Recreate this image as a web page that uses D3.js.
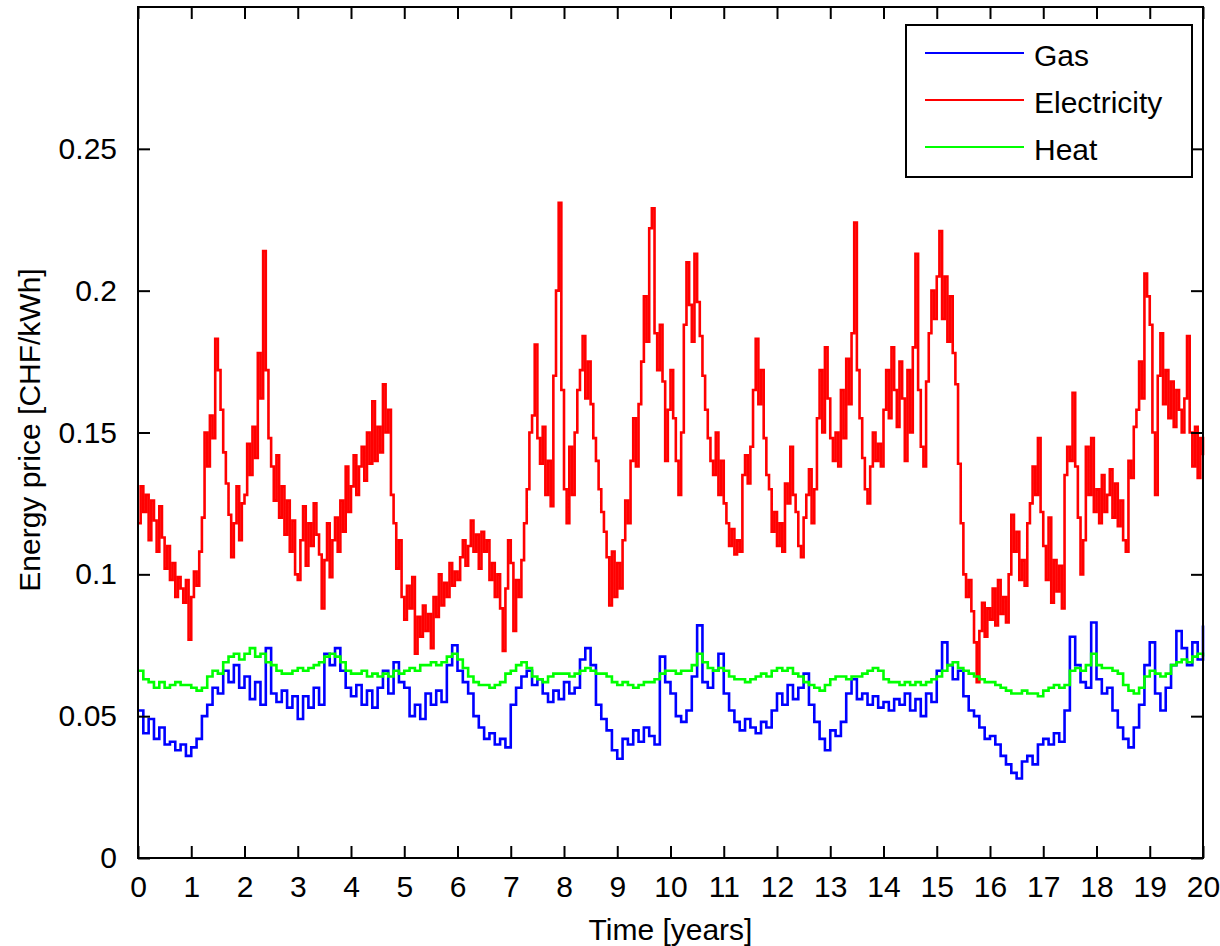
<!DOCTYPE html>
<html>
<head>
<meta charset="utf-8">
<script src="https://cdn.jsdelivr.net/npm/d3@7"></script>
<style>
  body { margin: 0; background: #fff; }
  text { font-family: "Liberation Sans", Arial, sans-serif; fill: #000; }
</style>
</head>
<body>
<div id="chart"></div>
<script>
// series names and colours (legend order)
const seriesNames = ["Gas", "Electricity", "Heat"];
const seriesColors = ["#0000ff", "#ff0000", "#00ff00"];

// tick labels
const xTicks = d3.range(0, 21);
const yTicks = [0, 0.05, 0.1, 0.15, 0.2, 0.25];
const yTickLabels = ["0", "0.05", "0.1", "0.15", "0.2", "0.25"];

const elecStep = 0.05;
const elec = [
  0.118, 0.131, 0.122, 0.128, 0.112, 0.126, 0.119, 0.108, 0.124, 0.113, 0.102, 0.110, 0.098, 0.104, 0.092, 0.099, 0.095, 0.090, 0.098, 0.077,
  0.092, 0.101, 0.096, 0.108, 0.120, 0.150, 0.138, 0.156, 0.148, 0.183, 0.172, 0.158, 0.143, 0.132, 0.121, 0.106, 0.118, 0.131, 0.112, 0.125,
  0.128, 0.146, 0.135, 0.152, 0.141, 0.178, 0.162, 0.214, 0.172, 0.148, 0.138, 0.126, 0.142, 0.120, 0.131, 0.114, 0.126, 0.108, 0.119, 0.100,
  0.098, 0.112, 0.124, 0.103, 0.118, 0.110, 0.125, 0.114, 0.107, 0.088, 0.105, 0.118, 0.099, 0.112, 0.120, 0.108, 0.126, 0.115, 0.138, 0.122,
  0.131, 0.142, 0.128, 0.138, 0.145, 0.133, 0.150, 0.139, 0.161, 0.140, 0.152, 0.143, 0.167, 0.150, 0.158, 0.128, 0.118, 0.102, 0.112, 0.092,
  0.084, 0.096, 0.088, 0.099, 0.072, 0.085, 0.078, 0.089, 0.080, 0.086, 0.074, 0.092, 0.085, 0.100, 0.089, 0.097, 0.092, 0.104, 0.096, 0.101,
  0.098, 0.106, 0.112, 0.103, 0.110, 0.119, 0.108, 0.114, 0.102, 0.115, 0.108, 0.112, 0.098, 0.104, 0.092, 0.100, 0.088, 0.073, 0.095, 0.112,
  0.104, 0.080, 0.098, 0.092, 0.105, 0.118, 0.130, 0.150, 0.156, 0.181, 0.148, 0.139, 0.152, 0.128, 0.140, 0.124, 0.170, 0.200, 0.231, 0.165,
  0.130, 0.118, 0.145, 0.128, 0.150, 0.165, 0.172, 0.184, 0.162, 0.175, 0.160, 0.148, 0.140, 0.130, 0.122, 0.115, 0.106, 0.089, 0.108, 0.092,
  0.104, 0.095, 0.112, 0.126, 0.118, 0.140, 0.155, 0.138, 0.160, 0.175, 0.198, 0.182, 0.222, 0.229, 0.185, 0.172, 0.188, 0.168, 0.140, 0.158,
  0.172, 0.155, 0.140, 0.128, 0.150, 0.188, 0.210, 0.195, 0.182, 0.213, 0.196, 0.184, 0.170, 0.158, 0.148, 0.140, 0.135, 0.150, 0.128, 0.140,
  0.125, 0.118, 0.110, 0.116, 0.107, 0.112, 0.108, 0.135, 0.142, 0.132, 0.145, 0.165, 0.183, 0.160, 0.172, 0.148, 0.135, 0.130, 0.115, 0.122,
  0.110, 0.118, 0.108, 0.132, 0.125, 0.145, 0.128, 0.122, 0.110, 0.106, 0.120, 0.128, 0.137, 0.118, 0.130, 0.155, 0.172, 0.150, 0.180, 0.162,
  0.148, 0.140, 0.150, 0.138, 0.165, 0.148, 0.176, 0.160, 0.185, 0.224, 0.172, 0.155, 0.141, 0.130, 0.125, 0.138, 0.150, 0.140, 0.146, 0.138,
  0.158, 0.172, 0.155, 0.180, 0.165, 0.152, 0.175, 0.162, 0.140, 0.172, 0.150, 0.180, 0.213, 0.165, 0.145, 0.138, 0.168, 0.185, 0.200, 0.190,
  0.205, 0.221, 0.190, 0.205, 0.182, 0.198, 0.178, 0.167, 0.139, 0.118, 0.100, 0.092, 0.098, 0.087, 0.076, 0.062, 0.080, 0.090, 0.078, 0.088,
  0.084, 0.095, 0.082, 0.098, 0.086, 0.092, 0.083, 0.100, 0.121, 0.108, 0.115, 0.098, 0.105, 0.096, 0.118, 0.125, 0.138, 0.128, 0.148, 0.122,
  0.110, 0.098, 0.120, 0.090, 0.105, 0.094, 0.103, 0.088, 0.135, 0.145, 0.140, 0.164, 0.138, 0.120, 0.100, 0.112, 0.145, 0.128, 0.148, 0.122,
  0.130, 0.118, 0.135, 0.122, 0.128, 0.137, 0.120, 0.132, 0.117, 0.126, 0.112, 0.108, 0.140, 0.134, 0.152, 0.158, 0.175, 0.162, 0.206, 0.198,
  0.188, 0.150, 0.128, 0.170, 0.185, 0.160, 0.172, 0.155, 0.168, 0.152, 0.165, 0.158, 0.150, 0.162, 0.184, 0.150, 0.138, 0.152, 0.134, 0.148,
  0.142
];

// gas price, sampled every 0.1 years
const gasStep = 0.1;
const gas = [
  0.052, 0.044, 0.049, 0.042, 0.046, 0.040, 0.041, 0.038, 0.040, 0.036,
  0.039, 0.042, 0.050, 0.054, 0.060, 0.058, 0.066, 0.062, 0.068, 0.060,
  0.064, 0.056, 0.062, 0.054, 0.074, 0.058, 0.055, 0.059, 0.053, 0.057,
  0.049, 0.057, 0.053, 0.060, 0.054, 0.072, 0.068, 0.074, 0.066, 0.060,
  0.057, 0.061, 0.054, 0.059, 0.053, 0.060, 0.066, 0.058, 0.069, 0.062,
  0.060, 0.050, 0.054, 0.049, 0.058, 0.054, 0.059, 0.055, 0.068, 0.075,
  0.066, 0.062, 0.058, 0.050, 0.046, 0.042, 0.044, 0.040, 0.042, 0.039,
  0.054, 0.060, 0.064, 0.066, 0.061, 0.063, 0.058, 0.055, 0.059, 0.056,
  0.062, 0.058, 0.060, 0.070, 0.074, 0.068, 0.054, 0.049, 0.045, 0.038,
  0.035, 0.042, 0.040, 0.045, 0.041, 0.046, 0.043, 0.040, 0.071, 0.062,
  0.058, 0.050, 0.048, 0.052, 0.064, 0.082, 0.062, 0.060, 0.066, 0.072,
  0.058, 0.052, 0.048, 0.045, 0.049, 0.046, 0.044, 0.048, 0.046, 0.052,
  0.058, 0.054, 0.061, 0.056, 0.060, 0.065, 0.054, 0.048, 0.042, 0.038,
  0.045, 0.043, 0.048, 0.058, 0.063, 0.056, 0.058, 0.054, 0.057, 0.053,
  0.055, 0.052, 0.056, 0.054, 0.058, 0.052, 0.056, 0.050, 0.058, 0.055,
  0.066, 0.076, 0.068, 0.063, 0.066, 0.057, 0.052, 0.050, 0.046, 0.042,
  0.043, 0.040, 0.036, 0.033, 0.030, 0.028, 0.034, 0.036, 0.033, 0.040,
  0.042, 0.040, 0.044, 0.041, 0.052, 0.078, 0.068, 0.062, 0.060, 0.083,
  0.063, 0.058, 0.060, 0.052, 0.046, 0.042, 0.039, 0.046, 0.054, 0.068,
  0.076, 0.058, 0.052, 0.060, 0.068, 0.080, 0.074, 0.068, 0.076, 0.070,
  0.082
];

// heat price, sampled every 0.1 years
const heatStep = 0.1;
const heat = [
  0.066, 0.063, 0.062, 0.060, 0.062, 0.060, 0.061, 0.062, 0.061, 0.061,
  0.060, 0.059, 0.060, 0.064, 0.066, 0.065, 0.069, 0.071, 0.072, 0.070,
  0.072, 0.074, 0.071, 0.072, 0.069, 0.068, 0.066, 0.065, 0.065, 0.066,
  0.067, 0.066, 0.067, 0.068, 0.069, 0.071, 0.072, 0.071, 0.069, 0.066,
  0.065, 0.065, 0.066, 0.064, 0.065, 0.064, 0.065, 0.064, 0.066, 0.065,
  0.066, 0.067, 0.066, 0.068, 0.068, 0.069, 0.068, 0.069, 0.071, 0.072,
  0.070, 0.067, 0.064, 0.062, 0.061, 0.061, 0.060, 0.061, 0.062, 0.065,
  0.066, 0.068, 0.069, 0.067, 0.064, 0.063, 0.062, 0.064, 0.065, 0.065,
  0.065, 0.064, 0.065, 0.066, 0.067, 0.066, 0.065, 0.065, 0.064, 0.062,
  0.061, 0.062, 0.061, 0.060, 0.061, 0.062, 0.062, 0.063, 0.065, 0.066,
  0.066, 0.065, 0.066, 0.066, 0.068, 0.072, 0.069, 0.067, 0.066, 0.067,
  0.066, 0.064, 0.063, 0.063, 0.062, 0.063, 0.064, 0.065, 0.064, 0.066,
  0.067, 0.066, 0.067, 0.065, 0.064, 0.062, 0.061, 0.060, 0.059, 0.061,
  0.063, 0.064, 0.064, 0.063, 0.064, 0.064, 0.065, 0.066, 0.067, 0.066,
  0.063, 0.062, 0.062, 0.061, 0.062, 0.061, 0.062, 0.061, 0.062, 0.063,
  0.064, 0.066, 0.068, 0.069, 0.067, 0.066, 0.065, 0.064, 0.063, 0.062,
  0.062, 0.061, 0.060, 0.059, 0.058, 0.058, 0.059, 0.058, 0.058, 0.057,
  0.059, 0.060, 0.061, 0.060, 0.061, 0.066, 0.067, 0.066, 0.068, 0.072,
  0.068, 0.067, 0.067, 0.066, 0.065, 0.061, 0.059, 0.058, 0.060, 0.064,
  0.066, 0.065, 0.064, 0.065, 0.068, 0.069, 0.070, 0.069, 0.071, 0.072,
  0.071
];

const w = 1220;
const h = 946;
const padL = 138, padR = 1203, padT = 7, padB = 858;
const tickLen = 12;

const svg = d3.select("#chart")
  .append("svg")
  .attr("width", w)
  .attr("height", h);

const xScale = d3.scaleLinear().domain([0, 20]).range([padL, padR]);
const yScale = d3.scaleLinear().domain([0, 0.3]).range([padB, padT]);

//折れ線 (Gas, Electricity, Heat の順に描く)
const series = [
  { name: seriesNames[0], color: seriesColors[0], step: gasStep, vals: gas },
  { name: seriesNames[1], color: seriesColors[1], step: elecStep, vals: elec },
  { name: seriesNames[2], color: seriesColors[2], step: heatStep, vals: heat }
];

const line = d3.line()
  .curve(d3.curveStepAfter)
  .x(d => xScale(d[0]))
  .y(d => yScale(d[1]));

for (let s of series) {
  const pts = s.vals.map((v, i) => [Math.min(20, i * s.step), v]);
  svg.append("path")
    .datum(pts)
    .attr("fill", "none")
    .attr("stroke", s.color)
    .attr("stroke-width", 2.6)
    .attr("stroke-linejoin", "miter")
    .attr("d", line);
}

// axes (ticks inward, box on)
const fontSize = 30;

svg.append("g")
  .attr("transform", "translate(0," + padB + ")")
  .call(d3.axisBottom(xScale).tickValues(xTicks).tickSize(-tickLen).tickPadding(tickLen + 6).tickFormat(d3.format("d")))
  .call(g => g.select(".domain").remove());
svg.append("g")
  .attr("transform", "translate(0," + padT + ")")
  .call(d3.axisTop(xScale).tickValues(xTicks).tickSize(-tickLen).tickFormat(""))
  .call(g => g.select(".domain").remove());
svg.append("g")
  .attr("transform", "translate(" + padL + ",0)")
  .call(d3.axisLeft(yScale).tickValues(yTicks).tickSize(-tickLen).tickPadding(tickLen + 9)
    .tickFormat((d, i) => yTickLabels[i]))
  .call(g => g.select(".domain").remove());
svg.append("g")
  .attr("transform", "translate(" + padR + ",0)")
  .call(d3.axisRight(yScale).tickValues(yTicks).tickSize(-tickLen).tickFormat(""))
  .call(g => g.select(".domain").remove());

svg.selectAll(".tick line").attr("stroke", "#000").attr("stroke-width", 2);
svg.selectAll(".tick text")
  .style("font-family", "'Liberation Sans', Arial, sans-serif")
  .style("font-size", fontSize + "px")
  .attr("fill", "#000");

svg.append("rect")
  .attr("x", padL)
  .attr("y", padT)
  .attr("width", padR - padL)
  .attr("height", padB - padT)
  .attr("fill", "none")
  .attr("stroke", "#000")
  .attr("stroke-width", 2);

// axis titles
svg.append("text")
  .attr("x", (padL + padR) / 2)
  .attr("y", 940)
  .attr("text-anchor", "middle")
  .style("font-size", fontSize + "px")
  .text("Time [years]");

svg.append("text")
  .attr("transform", "translate(40," + 430 + ") rotate(-90)")
  .attr("text-anchor", "middle")
  .style("font-size", fontSize + "px")
  .text("Energy price [CHF/kWh]");

// legend
const lg = svg.append("g");
lg.append("rect")
  .attr("x", 906)
  .attr("y", 25)
  .attr("width", 286)
  .attr("height", 152)
  .attr("fill", "#fff")
  .attr("stroke", "#000")
  .attr("stroke-width", 2);

series.forEach((s, i) => {
  const ly = 53 + i * 47;
  lg.append("line")
    .attr("x1", 925).attr("x2", 1024)
    .attr("y1", ly).attr("y2", ly)
    .attr("stroke", s.color)
    .attr("stroke-width", 2);
  lg.append("text")
    .attr("x", 1034)
    .attr("y", ly + 13)
    .style("font-size", fontSize + "px")
    .text(s.name);
});
</script>
</body>
</html>
